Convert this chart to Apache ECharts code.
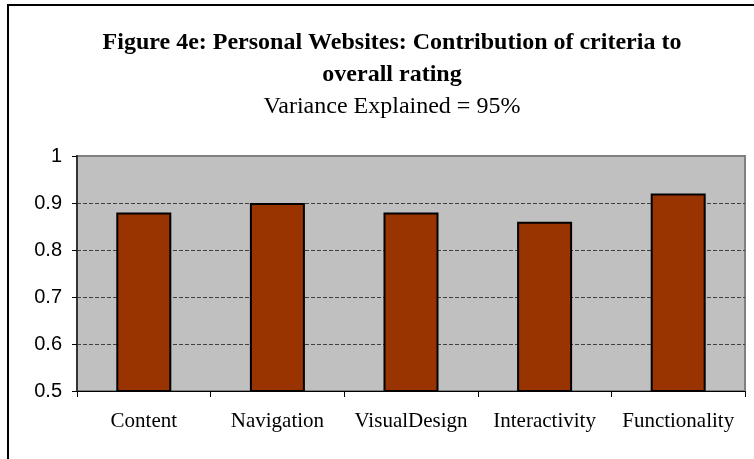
<!DOCTYPE html>
<html>
<head>
<meta charset="utf-8">
<script src="https://cdn.jsdelivr.net/npm/echarts@6/dist/echarts.min.js"></script>
<style>
  html, body { margin: 0; padding: 0; background: #fff; }
  #chart { width: 754px; height: 459px; }
</style>
</head>
<body>
<div id="chart"></div>
<script>
// data
var categories = ['Content', 'Navigation', 'VisualDesign', 'Interactivity', 'Functionality'];
var contribution = [0.88, 0.90, 0.88, 0.86, 0.92];
var titleLines = ['Figure 4e: Personal Websites: Contribution of criteria to', 'overall rating'];
var subTitle = 'Variance Explained = 95%';

var serif = "'Liberation Serif', 'Times New Roman', serif";
var sans = "'Liberation Sans', Arial, sans-serif";

var chart = echarts.init(document.getElementById('chart'));
chart.setOption({
    animation: false,
    backgroundColor: '#fff',
    title: {
        text: titleLines.join('\n'),
        subtext: subTitle,
        left: 392,
        top: 27,
        textAlign: 'center',
        itemGap: 0,
        padding: 0,
        textStyle: { fontFamily: serif, fontWeight: 'bold', fontSize: 24, color: '#000', lineHeight: 32 },
        subtextStyle: { fontFamily: serif, fontSize: 24, color: '#000', lineHeight: 32 }
    },
    graphic: [{
        type: 'rect',
        shape: { x: 8, y: 5, width: 800, height: 500 },
        style: { fill: 'none', stroke: '#000', lineWidth: 2 },
        silent: true
    }],
    grid: {
        left: 77, top: 156, right: 9, bottom: 68,
        show: true,
        backgroundColor: '#c0c0c0',
        borderColor: '#808080',
        borderWidth: 2
    },
    xAxis: {
        type: 'category',
        data: categories,
        axisLine: { lineStyle: { color: '#000', width: 1 } },
        axisTick: { show: true, length: 6, lineStyle: { color: '#000' } },
        axisLabel: { fontFamily: serif, fontSize: 21, color: '#000', margin: 20, interval: 0, hideOverlap: false }
    },
    yAxis: {
        type: 'value',
        min: 0.5,
        max: 1,
        interval: 0.1,
        axisLine: { show: true, lineStyle: { color: '#333', width: 2 } },
        axisTick: { show: true, length: 5, lineStyle: { color: '#000' } },
        axisLabel: { fontFamily: sans, fontSize: 20, color: '#000', margin: 15 },
        splitLine: { showMaxLine: false, showMinLine: false, lineStyle: { color: '#404040', width: 1, type: [4, 2] } }
    },
    series: [{
        type: 'bar',
        data: contribution,
        barWidth: 55,
        itemStyle: { color: '#993300', borderColor: '#000', borderWidth: 2 }
    }]
});
</script>
</body>
</html>
